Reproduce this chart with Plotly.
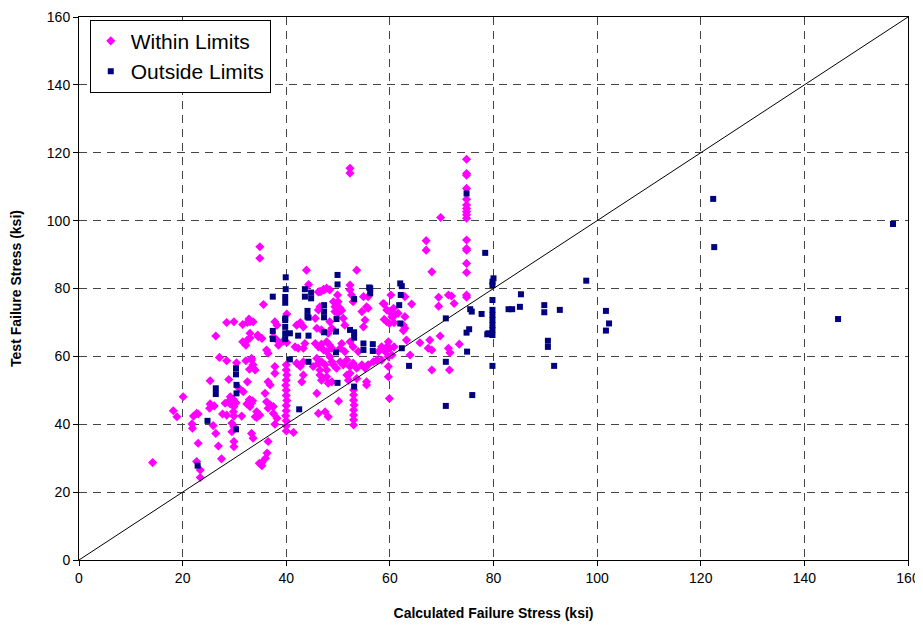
import plotly.graph_objects as go

# ---- data ----
within_x = [
    28.5, 29.9, 32.8, 31.6, 32.5, 26.4, 34.5, 31.6, 32.5, 32.2, 27.1, 28.5, 30.4, 32.2, 33.3,
    32.9, 34.0, 25.3, 28.9, 32.5, 30.9, 31.7, 20.1, 29.2, 29.8, 28.8, 32.9, 33.5, 32.4, 33.0,
    25.3, 26.1, 25.2, 28.2, 29.2, 30.3, 29.9, 18.2, 18.9, 22.1, 22.7, 23.0, 27.7, 28.5, 29.8,
    29.9, 31.4, 34.3, 21.8, 21.9, 25.9, 29.5, 29.9, 26.4, 29.5, 23.0, 26.9, 29.9, 29.9, 27.5,
    14.2, 22.7, 23.4, 23.4, 34.8,
    52.3, 52.3, 34.9, 34.9, 43.9, 44.3, 53.6, 52.3, 47.2, 47.8, 35.6, 40.1, 46.2, 46.2, 52.3,
    46.7, 54.9, 55.8, 52.6, 52.9, 49.1, 50.0, 49.4, 50.4, 49.4, 50.0, 50.7, 46.5, 54.6, 55.8,
    58.7, 48.4, 49.9, 55.5,
    37.8, 34.6, 35.3, 33.0, 42.7, 42.0, 43.3, 45.6, 45.9, 46.8, 48.4, 48.8, 48.1, 51.0, 51.3,
    54.9, 55.2, 39.4, 40.1, 41.7, 42.3, 43.3, 43.6, 45.6, 46.2, 46.8, 47.8, 48.4, 48.8, 47.2,
    47.8, 50.4, 51.3, 50.7, 52.3, 52.9, 53.9, 36.5, 36.2, 33.3, 33.6, 37.8, 42.0, 42.7, 43.3,
    45.9, 46.2, 46.8, 47.5, 45.2, 46.5, 47.8, 48.8, 48.4, 49.1, 49.7, 50.4, 51.0, 51.7, 52.3,
    52.9, 53.6, 54.6, 55.2, 55.8, 56.8, 57.5, 58.4, 57.8, 58.4, 37.8, 43.3, 43.0, 47.8, 46.5,
    46.8, 48.8, 48.1, 51.7, 52.3, 52.0, 53.6, 55.5, 55.5, 36.5, 36.9, 35.9, 45.9, 50.1, 36.2,
    36.9, 36.5, 37.5, 33.0, 33.3, 34.3, 34.9, 34.0, 37.5, 38.2, 46.2, 47.5, 48.1, 37.8, 41.4,
    33.3, 33.6, 36.5, 35.3, 35.3, 36.3, 36.0,
    40.0, 40.0, 40.1, 40.0, 39.9, 40.0, 40.0, 40.1, 40.0, 40.0, 39.9, 40.0, 40.0, 40.0,
    53.0, 53.0, 53.0, 53.1, 53.0, 53.0, 53.0, 53.0,
    46.5, 47.3, 33.0, 33.6, 38.2, 33.0, 38.5, 38.2, 37.5,
    74.8, 74.8, 74.8, 74.8, 74.8, 74.8, 74.8, 74.8, 74.8, 74.8, 74.8, 74.8, 74.8, 74.8, 74.8,
    69.8, 67.0, 67.0, 68.1,
    60.2, 62.9, 58.9, 59.4, 59.9, 60.7, 61.0, 61.6, 62.9, 64.2, 58.9, 59.4, 59.9, 60.8, 60.4,
    62.6, 62.6, 62.9, 69.4, 71.3, 71.9, 74.8, 74.8, 69.4, 72.4, 63.2, 65.8, 67.7, 69.7, 73.4,
    67.4, 68.1, 71.3, 71.6, 59.7, 59.4, 60.0, 59.1, 60.4, 59.7, 60.8, 63.9, 59.7, 59.7, 68.1,
    71.5, 59.9,
]
within_y = [
    70.0, 70.2, 71.0, 69.4, 70.0, 66.0, 66.3, 64.3, 64.8, 63.3, 59.7, 58.7, 58.1, 58.7, 59.4,
    56.2, 56.0, 52.8, 53.2, 52.5, 50.6, 49.6, 48.1, 48.1, 47.3, 46.6, 47.3, 46.9, 46.0, 45.2,
    46.0, 45.4, 44.7, 46.2, 46.0, 46.3, 45.2, 44.0, 42.2, 42.4, 43.2, 43.0, 43.0, 42.7, 43.7,
    42.4, 42.4, 42.0, 40.1, 38.8, 39.6, 40.3, 39.3, 37.3, 37.8, 34.4, 33.6, 34.9, 33.4, 29.8,
    28.7, 29.0, 26.5, 24.3, 28.5,
    115.4, 114.0, 92.3, 88.9, 85.4, 81.2, 85.4, 81.0, 79.8, 80.1, 75.3, 72.5, 79.0, 73.7, 79.6,
    79.1, 77.6, 77.6, 78.1, 76.1, 76.1, 76.1, 74.6, 74.2, 73.2, 72.7, 73.5, 74.6, 73.2, 74.2,
    75.6, 79.6, 78.1, 74.6,
    70.2, 65.8, 65.3, 65.4, 70.0, 69.2, 68.7, 71.2, 68.3, 67.8, 70.2, 68.3, 66.8, 71.2, 69.2,
    68.7, 70.7, 64.5, 64.1, 62.8, 62.4, 62.4, 63.8, 63.8, 62.8, 63.6, 64.3, 63.3, 62.4, 61.9,
    61.4, 62.4, 61.4, 63.8, 64.3, 62.8, 61.4, 60.9, 61.9, 58.9, 57.5, 57.0, 58.0, 57.0, 58.4,
    59.4, 58.0, 58.4, 57.5, 57.0, 56.0, 56.0, 58.4, 59.9, 57.5, 56.5, 58.4, 57.5, 58.9, 57.0,
    58.0, 56.5, 57.5, 56.5, 57.5, 58.4, 58.9, 58.9, 61.4, 62.8, 55.0, 54.5, 52.5, 54.0, 54.5,
    53.0, 52.5, 52.1, 54.5, 55.0, 53.0, 53.5, 52.5, 51.6, 52.5, 51.6, 49.1, 49.1, 46.8, 46.6,
    45.7, 44.7, 45.2, 47.1, 46.2, 43.7, 42.7, 42.2, 43.2, 41.8, 43.2, 43.7, 42.2, 40.0, 37.6,
    37.3, 35.9, 34.9, 28.7, 27.8, 31.5, 30.0,
    57.5, 56.0, 54.5, 53.0, 51.5, 50.0, 48.5, 47.0, 45.5, 44.0, 42.5, 41.0, 39.5, 38.0,
    50.1, 48.6, 47.1, 45.7, 44.2, 42.7, 41.3, 39.8,
    79.1, 79.6, 70.2, 70.2, 69.2, 66.8, 63.3, 64.8, 65.8,
    118.1, 113.9, 113.4, 109.5, 106.3, 104.6, 103.6, 102.6, 101.7, 100.7, 94.3, 91.8, 91.3, 87.4, 84.7,
    100.9, 94.1, 91.3, 84.9,
    78.1, 77.6, 75.4, 73.7, 73.2, 74.2, 72.2, 72.7, 71.7, 75.4, 70.9, 70.2, 69.7, 69.9, 71.7,
    69.2, 67.6, 68.3, 77.4, 78.1, 77.8, 78.1, 77.4, 74.8, 75.6, 64.8, 64.0, 64.8, 66.0, 63.6,
    62.4, 61.9, 62.4, 61.1, 64.3, 62.8, 62.4, 61.4, 60.4, 59.9, 62.8, 60.4, 57.0, 54.0, 56.0,
    56.0, 47.6,
]

outside_x = [
    30.3, 30.3, 30.4, 26.4, 26.4, 30.4, 24.8, 30.3, 22.9,
    39.9, 39.9, 39.8, 39.8, 43.6, 49.9, 49.9, 56.0, 37.4, 43.6, 44.8, 44.8, 44.1, 44.1, 39.8,
    56.2, 56.2, 53.1, 47.3, 47.3, 47.3, 49.7, 39.8, 39.8, 39.8, 39.8, 37.4, 37.4, 40.7, 42.3,
    44.3, 44.3, 47.3, 49.6, 52.3, 53.1, 53.1, 54.9, 54.9, 56.7, 56.7, 49.6, 40.7, 44.3, 49.9,
    53.1, 42.5,
    62.0, 62.3, 62.1, 61.8, 62.0, 62.3, 63.7, 70.8, 70.8, 74.9, 75.5, 75.8, 74.8, 75.3, 77.7,
    79.0, 79.8, 79.8, 79.8, 79.8, 79.8, 79.8, 79.8, 79.8, 79.8, 75.9, 70.8, 82.9,
    78.4, 80.0, 79.8, 97.9, 85.3, 78.8, 83.6, 85.1, 89.8, 89.8, 92.8, 90.5, 90.5, 91.7, 101.7,
    102.3, 101.7, 74.8, 122.4, 122.6, 146.5, 157.1,
]
outside_y = [
    56.5, 54.7, 51.6, 50.6, 48.9, 49.1, 41.0, 38.5, 27.8,
    83.3, 79.8, 77.5, 75.8, 79.8, 84.0, 81.2, 80.3, 77.6, 77.6, 78.8, 77.1, 73.4, 71.7, 71.2,
    80.1, 78.6, 76.9, 75.1, 73.2, 71.5, 71.0, 70.7, 68.7, 66.8, 65.1, 67.5, 65.1, 66.8, 66.1,
    71.4, 66.1, 67.1, 67.3, 67.8, 67.1, 65.5, 63.8, 61.9, 63.6, 61.6, 61.2, 59.1, 58.4, 52.2,
    51.1, 44.4,
    81.5, 80.7, 78.1, 75.1, 69.7, 62.4, 57.2, 71.2, 58.4, 61.4, 73.9, 73.2, 67.0, 68.0, 72.5,
    66.8, 82.0, 76.6, 73.7, 72.2, 70.7, 69.2, 67.8, 66.3, 57.2, 48.6, 45.4, 73.9,
    90.5, 83.0, 81.0, 82.3, 78.3, 66.5, 73.9, 74.6, 75.1, 73.0, 73.7, 64.6, 62.8, 57.2, 73.4,
    69.7, 67.6, 108.0, 106.4, 92.2, 71.0, 99.0,
]

diag_x = [0, 160]
diag_y = [0, 160]
tick_vals = [0, 20, 40, 60, 80, 100, 120, 140, 160]

FONT = "Liberation Sans, Arial, sans-serif"

fig = go.Figure()
fig.add_trace(go.Scatter(
    x=within_x, y=within_y, mode="markers", name="Within Limits",
    marker=dict(symbol="diamond", size=7, color="#FF00FF", line=dict(width=0)),
))
fig.add_trace(go.Scatter(
    x=outside_x, y=outside_y, mode="markers", name="Outside Limits",
    marker=dict(symbol="square", size=6, color="#000080", line=dict(width=0)),
))
fig.add_trace(go.Scatter(
    x=diag_x, y=diag_y, mode="lines", showlegend=False,
    line=dict(color="black", width=1),
))

axis_common = dict(
    range=[0, 160], tickvals=tick_vals, showgrid=True, gridcolor="#444444",
    griddash="8px,6px", gridwidth=1, zeroline=False, showline=True,
    linecolor="black", linewidth=1, mirror=True, ticks="outside", ticklen=5,
    tickcolor="black", tickfont=dict(family=FONT, size=14, color="black"),
    automargin=False,
)

fig.update_xaxes(**axis_common,
                 title=dict(text="<b>Calculated Failure Stress (ksi)</b>",
                            font=dict(family=FONT, size=14, color="black"), standoff=23))
fig.update_yaxes(**axis_common,
                 title=dict(text="<b>Test Failure Stress (ksi)</b>",
                            font=dict(family=FONT, size=14, color="black"), standoff=27))

# the page body adds an 8px offset, so the figure is sized to land the plot area
# at x 79..908, y 17..560 of the window
fig.update_layout(
    width=915, height=618,
    margin=dict(l=71, r=15, t=9, b=66, autoexpand=False),
    plot_bgcolor="white", paper_bgcolor="white",
    font=dict(family=FONT, color="black"),
    legend=dict(
        x=0.013, y=0.995, xanchor="left", yanchor="top",
        bgcolor="white", bordercolor="black", borderwidth=1,
        font=dict(family=FONT, size=21, color="black"),
        itemsizing="trace", tracegroupgap=0,
    ),
)

fig.write_html("out.html")
